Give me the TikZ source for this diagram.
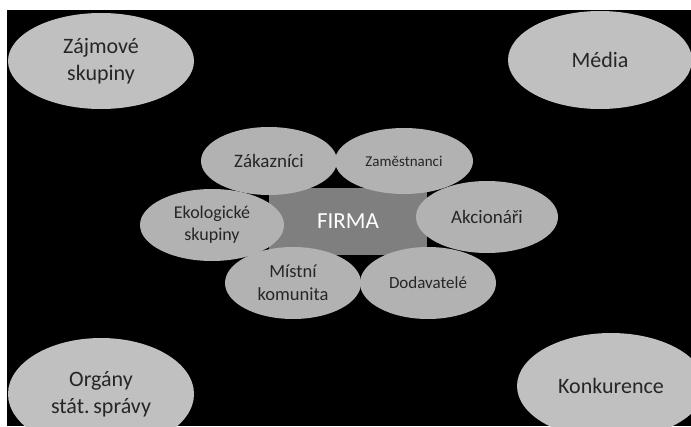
\documentclass[tikz,border=0pt]{standalone}
\usepackage{fontspec}
\setmainfont{Carlito}
\usetikzlibrary{shapes.geometric}
\definecolor{outerfill}{RGB}{192,192,192}
\definecolor{innerfill}{RGB}{178,178,178}
\definecolor{firmafill}{RGB}{127,127,127}
\definecolor{txtcol}{RGB}{38,38,38}
\tikzset{
  blob/.style={ellipse, inner sep=0pt, align=center, text=txtcol},
  outerblob/.style={blob, fill=outerfill, font=\fontsize{22}{27}\selectfont},
  innerblob/.style={blob, fill=innerfill},
  firmabox/.style={rectangle, fill=firmafill, inner sep=0pt, text=white, font=\fontsize{23}{27}\selectfont}
}
\begin{document}
\begin{tikzpicture}[x=1pt,y=-1pt]
\useasboundingbox (0,0) rectangle (691,426);
\clip (0,0) rectangle (691,426);
\fill[white] (0,0) rectangle (691,426);
\fill[black] (7,10) rectangle (691,426);
% outer stakeholders
\node[outerblob, minimum width=186pt, minimum height=96pt] (zajmove) at (101,61) {Zájmové\\skupiny};
\node[outerblob, minimum width=184pt, minimum height=98pt] (media) at (600,60) {Média};
\node[outerblob, minimum width=186pt, minimum height=112pt] (organy) at (101,394) {Orgány\\stát.\,správy};
\node[outerblob, minimum width=188pt, minimum height=106pt] (konkurence) at (611,386) {Konkurence};
% centre
\node[firmabox, minimum width=158pt, minimum height=67pt] (firma) at (348,221.5) {FIRMA};
\node[innerblob, minimum width=136pt, minimum height=68pt, font=\fontsize{19}{23}\selectfont] (zakaznici) at (269,161) {Zákazníci};
\node[innerblob, minimum width=138pt, minimum height=66pt, font=\fontsize{15}{18}\selectfont] (zamestnanci) at (404,161) {Zaměstnanci};
\node[innerblob, minimum width=144pt, minimum height=72pt, font=\fontsize{18}{22}\selectfont] (ekologicke) at (212,225) {Ekologické\\skupiny};
\node[innerblob, minimum width=142pt, minimum height=72pt, font=\fontsize{19}{23}\selectfont] (akcionari) at (487,217) {Akcionáři};
\node[innerblob, minimum width=136pt, minimum height=72pt, font=\fontsize{18.5}{23}\selectfont] (mistni) at (293,283) {Místní\\komunita};
\node[innerblob, minimum width=136pt, minimum height=72pt, font=\fontsize{17}{21}\selectfont] (dodavatele) at (428,283) {Dodavatelé};
\end{tikzpicture}
\end{document}
